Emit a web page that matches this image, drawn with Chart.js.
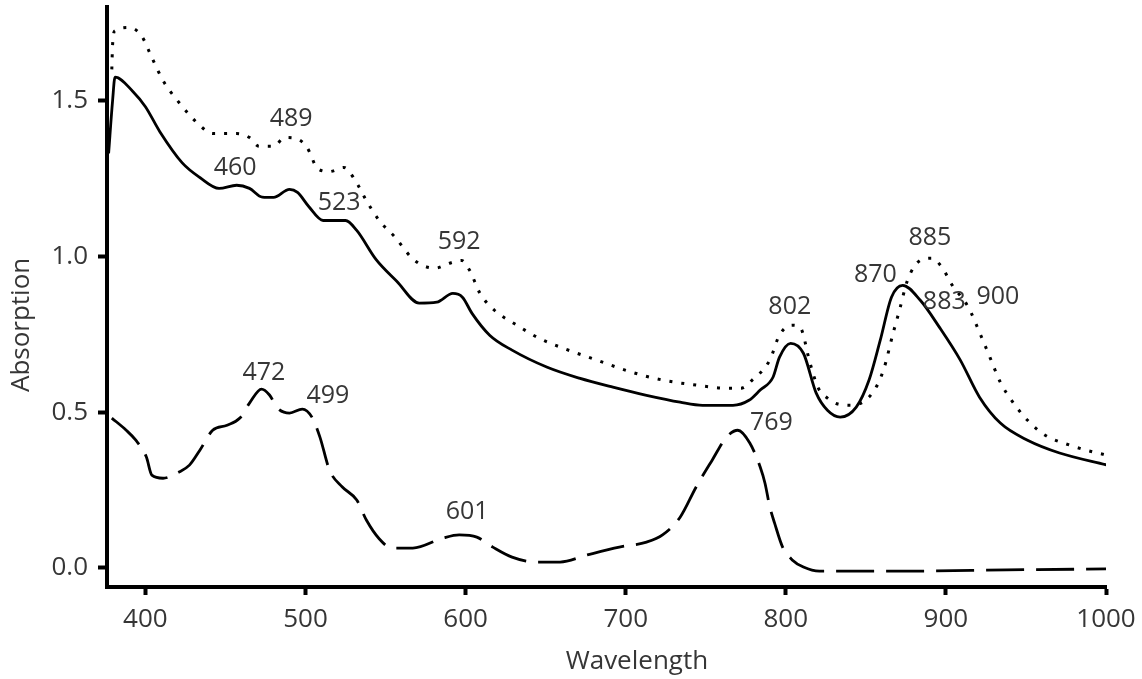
<!DOCTYPE html>
<html>
<head>
<meta charset="utf-8">
<script src="https://cdn.jsdelivr.net/npm/chart.js@4.4.1/dist/chart.umd.min.js"></script>
<style>
  body { margin: 0; background: #fff; }
  canvas { display: block; }
</style>
</head>
<body>
<canvas id="specChart" width="1142" height="679"></canvas>
<script>
// solid trace
const solidX = [377, 379.5, 381, 392, 400, 409, 423, 434, 446, 457, 465, 473, 480, 490, 495, 502, 511, 525, 532, 544, 557, 571, 582, 592, 598, 604, 615, 629, 651, 671, 692, 713, 734, 748, 767, 777, 784, 792, 796, 803, 811, 819, 826, 834, 844, 852, 859, 866, 873, 884, 896, 909, 921, 934, 951, 971, 1001];
const solidY = [1.33, 1.50, 1.575, 1.53, 1.48, 1.40, 1.30, 1.253, 1.218, 1.228, 1.218, 1.19, 1.189, 1.215, 1.205, 1.16, 1.115, 1.115, 1.083, 0.99, 0.92, 0.85, 0.853, 0.881, 0.869, 0.817, 0.747, 0.699, 0.644, 0.609, 0.580, 0.554, 0.532, 0.522, 0.522, 0.538, 0.571, 0.612, 0.676, 0.721, 0.689, 0.561, 0.506, 0.484, 0.516, 0.603, 0.731, 0.869, 0.907, 0.859, 0.772, 0.667, 0.548, 0.465, 0.41, 0.369, 0.33];

// dotted trace
const dottedX = [379, 379.5, 381, 390, 397.5, 404, 411, 420, 434, 442, 457, 465, 471, 480, 487, 494, 501, 507.5, 515, 524, 531, 538, 546, 556, 566, 573, 581, 590, 597.5, 602.5, 609, 618, 632, 646, 661, 682, 702, 723, 744, 763, 772, 779, 790, 796, 804, 809, 815, 820, 826, 832.5, 841, 854, 861, 867, 871, 876, 884, 891, 897.5, 904, 914, 921, 927.5, 934, 941, 951, 962, 977.5, 992, 1001];
const dottedY = [1.60, 1.68, 1.724, 1.734, 1.708, 1.638, 1.564, 1.50, 1.42, 1.394, 1.394, 1.381, 1.353, 1.353, 1.381, 1.378, 1.349, 1.282, 1.272, 1.285, 1.244, 1.179, 1.115, 1.061, 0.997, 0.971, 0.962, 0.978, 0.987, 0.955, 0.881, 0.827, 0.779, 0.737, 0.705, 0.667, 0.631, 0.603, 0.587, 0.577, 0.577, 0.603, 0.667, 0.747, 0.779, 0.772, 0.66, 0.58, 0.545, 0.526, 0.522, 0.561, 0.635, 0.753, 0.827, 0.923, 0.987, 0.994, 0.965, 0.907, 0.837, 0.756, 0.676, 0.596, 0.538, 0.474, 0.426, 0.394, 0.372, 0.362];

// dashed trace
const dashedX = [379, 388, 394, 400.6, 404, 411, 421, 427.5, 434, 442, 451, 459, 465, 472.5, 477.5, 482.5, 490, 498, 504, 509, 515, 523, 532, 538, 546, 554, 567, 586, 596, 607, 617, 629, 644, 659, 676, 696, 713, 723, 734, 744, 754, 763, 770, 777.5, 784, 787, 790, 793, 798, 804, 811, 821, 880, 938, 1002];
const dashedY = [0.481, 0.442, 0.41, 0.356, 0.298, 0.288, 0.308, 0.33, 0.378, 0.442, 0.458, 0.481, 0.529, 0.574, 0.555, 0.513, 0.497, 0.51, 0.484, 0.42, 0.314, 0.26, 0.218, 0.154, 0.094, 0.064, 0.064, 0.096, 0.106, 0.099, 0.067, 0.035, 0.019, 0.019, 0.042, 0.067, 0.083, 0.106, 0.163, 0.26, 0.346, 0.42, 0.442, 0.401, 0.324, 0.272, 0.196, 0.144, 0.067, 0.026, 0.003, -0.01, -0.01, -0.006, -0.003];

// peak annotations
const peakLabels = ['489', '460', '523', '592', '472', '499', '601', '769', '802', '870', '885', '883', '900'];
const peakX = [491, 456, 521, 596, 474, 514, 601, 791, 802.5, 856, 890, 899, 932.5];
const peakY = [1.44, 1.285, 1.17, 1.045, 0.625, 0.551, 0.18, 0.465, 0.837, 0.939, 1.058, 0.853, 0.869];

const xTicks = [400, 500, 600, 700, 800, 900, 1000];
const yTicks = [0, 0.5, 1.0, 1.5];

const textColor = '#363636';
const fontFamily = "'Open Sans', 'DejaVu Sans', sans-serif";

const toPoints = (xs, ys)=>xs.map((x, i)=>({ x: x, y: ys[i] }));

const peakPlugin = {
  id: 'peaks',
  afterDatasetsDraw: (chart)=>{
    const ctx = chart.ctx;
    const xs = chart.scales.x;
    const ys = chart.scales.y;
    ctx.save();
    ctx.fillStyle = textColor;
    ctx.font = "25px " + fontFamily;
    ctx.textAlign = 'center';
    ctx.textBaseline = 'middle';
    peakLabels.forEach((lbl, i)=>{
      ctx.fillText(lbl, xs.getPixelForValue(peakX[i]), ys.getPixelForValue(peakY[i]));
    });

    // axis titles
    ctx.font = "26px " + fontFamily;
    ctx.fillText('Wavelength', xs.getPixelForValue(707), 662);
    ctx.translate(22, ys.getPixelForValue(0.78));
    ctx.rotate(-Math.PI / 2);
    ctx.fillText('Absorption', 0, 0);
    ctx.restore();
  }
};

const ctx = document.getElementById('specChart').getContext('2d');

const specChart = new Chart(ctx, {
  type: 'line',
  data: {
    datasets: [{
      label: 'solid',
      data: toPoints(solidX, solidY),
      borderColor: '#000',
      borderWidth: 2.8,
      pointRadius: 0,
      cubicInterpolationMode: 'monotone'
    }, {
      label: 'dotted',
      data: toPoints(dottedX, dottedY),
      borderColor: '#000',
      borderWidth: 3,
      borderDash: [3, 9],
      borderCapStyle: 'butt',
      pointRadius: 0,
      cubicInterpolationMode: 'monotone'
    }, {
      label: 'dashed',
      data: toPoints(dashedX, dashedY),
      borderColor: '#000',
      borderWidth: 2.8,
      borderDash: [38, 12],
      borderCapStyle: 'butt',
      pointRadius: 0,
      cubicInterpolationMode: 'monotone'
    }]
  },
  options: {
    responsive: false,
    animation: false,
    layout: { padding: { top: 7, right: 36, left: 0, bottom: 0 } },
    plugins: {
      legend: { display: false },
      tooltip: { enabled: false }
    },
    scales: {
      x: {
        type: 'linear',
        min: 376,
        max: 1000,
        afterBuildTicks: (axis)=>{ axis.ticks = xTicks.map(v=>({ value: v })); },
        afterFit: (axis)=>{
          axis.height = 92;
          axis.paddingLeft = 0;
          axis.paddingRight = 0;
        },
        border: { display: true, width: 4, color: '#000' },
        grid: { drawOnChartArea: false, tickLength: 8, tickWidth: 4, tickColor: '#000' },
        ticks: {
          color: textColor,
          padding: 9,
          maxRotation: 0,
          font: { family: fontFamily, size: 26 },
          callback: (v)=>String(v)
        }
      },
      y: {
        min: -0.061,
        max: 1.80,
        afterBuildTicks: (axis)=>{ axis.ticks = yTicks.map(v=>({ value: v })); },
        afterFit: (axis)=>{
          axis.width = 107;
          axis.paddingTop = 0;
          axis.paddingBottom = 0;
        },
        border: { display: true, width: 4, color: '#000' },
        grid: { drawOnChartArea: false, tickLength: 9, tickWidth: 4, tickColor: '#000' },
        ticks: {
          color: textColor,
          padding: 10,
          font: { family: fontFamily, size: 26 },
          callback: (v)=>Number(v).toFixed(1)
        }
      }
    }
  },
  plugins: [peakPlugin]
});
</script>
</body>
</html>
